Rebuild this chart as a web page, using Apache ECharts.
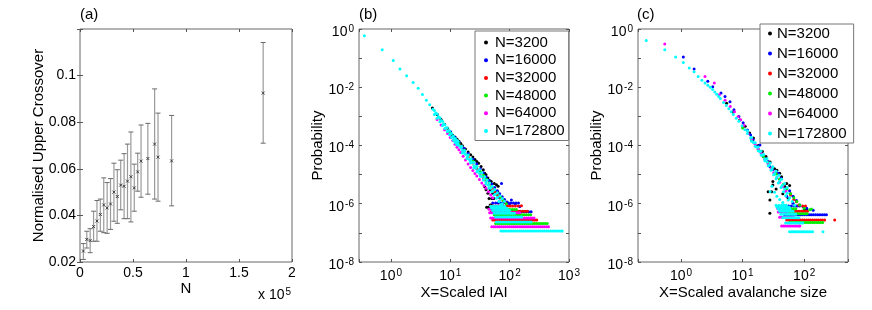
<!DOCTYPE html>
<html><head><meta charset="utf-8">
<script src="https://cdn.jsdelivr.net/npm/echarts@6/dist/echarts.min.js"></script>
<style>html,body{margin:0;padding:0;background:#fff}#c{width:872px;height:310px}</style>
</head><body><div id="c"></div><script>
// ---------- Panel (a): normalised upper crossover vs N ----------
const aN    = [3200,6400,9600,12800,16000,19200,22400,25600,28800,32000,35200,38400,41600,44800,48000,51200,54400,57600,64000,70400,73600,86400,172800];
const aMean = [0.0247,0.0297,0.0292,0.0352,0.0376,0.0404,0.0445,0.0432,0.0449,0.0500,0.0481,0.0530,0.0525,0.0547,0.0566,0.0518,0.0587,0.0633,0.0644,0.0706,0.0650,0.0634,0.0925];
const aLow  = [0.0211,0.0260,0.0240,0.0289,0.0289,0.0332,0.0326,0.0323,0.0340,0.0375,0.0366,0.0424,0.0386,0.0386,0.0372,0.0418,0.0504,0.0478,0.0491,0.0470,0.0461,0.0441,0.0710];
const aHigh = [0.0279,0.0332,0.0343,0.0418,0.0464,0.0470,0.0561,0.0541,0.0558,0.0624,0.0596,0.0637,0.0665,0.0706,0.0758,0.0620,0.0667,0.0788,0.0795,0.0943,0.0839,0.0829,0.1142];

// ---------- Legend / series names ----------
const seriesNames = ['N=3200','N=16000','N=32000','N=48000','N=64000','N=172800'];

// ---------- Panel (b): X = scaled IAI ----------
const bBand3200 = [[5,1.95e-3],[6,1.17e-3],[7,7.8e-4],[8,5.4e-4],[9,3.9e-4],[10,2.9e-4],[11,2.24e-4],[12,1.95e-4],[13,1.65e-4],[14,1.4e-4],[15,1.17e-4],[16,9.8e-5],[18,7.6e-5],[20,6.0e-5],[22,4.8e-5],[24,4.0e-5],[26,3.3e-5],[28,2.8e-5],[30,2.45e-5],[33,1.9e-5],[36,1.48e-5],[38,1.12e-5],[40,1.0e-5],[43,7.6e-6],[46,6.3e-6],[49,5.8e-6],[55,5.0e-6],[60,4.5e-6],[64,4.0e-6],[41,7.6e-7],[44,7.6e-7],[47,9.1e-7],[49,9.1e-7],[45,1.5e-6],[50,1.5e-6],[54,1.5e-6],[43,2.3e-6],[52,2.3e-6],[58,2.3e-6],[47,3.0e-6],[56,3.0e-6],[63,2.6e-6],[40,3.0e-6],[38,3.8e-6]];
const bRows3200 = [];
const bBand16000 = [[10,3.0e-4],[12,1.9e-4],[14,1.3e-4],[17,8e-5],[20,5.3e-5],[24,3.4e-5],[28,2.3e-5],[32,1.6e-5],[36,1.15e-5],[40,8.5e-6],[45,6.3e-6],[50,4.8e-6],[56,3.6e-6],[62,2.8e-6],[68,2.2e-6],[75,1.75e-6],[82,1.4e-6],[90,1.15e-6],[100,1.0e-6],[107,1.35e-6],[125,1.0e-6],[148,8e-7],[73,5e-6],[66,1.66e-6]];
const bRows16000 = [[5.3e-7,[55,60,66,73,80,88,97,107,118,130,143,157,173,190,209,230]],[1.06e-6,[52,58,64,71,78,86,95,105,116,128,141]]];
const bBand32000 = [[10,2.5e-4],[12,1.6e-4],[14,1.05e-4],[17,6.2e-5],[20,4.0e-5],[24,2.5e-5],[28,1.6e-5],[32,1.1e-5],[36,8e-6],[40,6e-6],[45,4.5e-6],[50,3.4e-6],[56,2.6e-6],[62,2.0e-6],[70,1.6e-6],[77,1.35e-6],[85,1.1e-6],[158,8.5e-7]];
const bRows32000 = [[2.77e-7,[52,56,61,66,71,77,83,90,97,105,113,122,132,143,154,167,180,194,210,227,245,265,286]],[5.5e-7,[50,55,60,66,72,79,87,95,104,114,125,137,150,165,181,198]],[8.3e-7,[48,53,58,64,70,77,85,93,102,112,125,140]]];
const bBand48000 = [[10,2.7e-4],[12,1.7e-4],[14,1.15e-4],[17,7e-5],[20,4.6e-5],[24,2.9e-5],[28,1.9e-5],[32,1.3e-5],[36,9.5e-6],[40,7e-6],[45,5.2e-6],[50,3.9e-6],[56,3e-6],[62,2.3e-6],[70,1.7e-6],[78,1.3e-6],[88,1.0e-6]];
const bRows48000 = [[2.1e-7,[58,63,68,74,80,87,94,102,110,119,129,140,152,165,178,193,209,227,246,266,288,312,338,366,397,430]],[4.2e-7,[55,60,65,71,77,84,91,99,107,116,126,137,149,162,176,191,208,226]],[6.3e-7,[52,57,62,67,73,79,86,93,101,110,120,130]]];
const bBand64000 = [[6,7.8e-4],[7,5.1e-4],[8,3.5e-4],[9,2.6e-4],[10,1.9e-4],[11,1.48e-4],[12,1.1e-4],[13,8.7e-5],[14,7.1e-5],[15,5.8e-5],[16.5,4.3e-5],[18,3.2e-5],[20,2.3e-5],[22,1.74e-5],[24,1.38e-5],[26,1.1e-5],[28,8.9e-6],[31,6.8e-6],[34,5.2e-6],[37,4.2e-6],[40,3.4e-6],[44,2.6e-6],[48,2.0e-6],[52,1.6e-6]];
const bRows64000 = [[1.63e-7,[50,54,58,63,68,73,79,85,92,99,107,115,124,134,145,156,168,181,196,211,228,246,265,286,309,333,360,388,419,452]],[3.26e-7,[48,52,56,61,66,71,77,83,90,97,105,113,122,132,142,153,165,178,192,207,223,240,258]],[4.9e-7,[46,50,54,58,63,68,74,80,86,93,100,108,117,126,136,147]],[6.5e-7,[45,49,53,57,62,67,72,78,84,90]]];
const bBand172800 = [[0.357,0.59],[0.714,0.194],[1.094,0.083],[1.42,0.042],[1.84,0.0248],[2.37,0.0146],[2.88,0.0093],[3.4,0.0056],[3.95,0.0036],[4.5,0.0025],[5.1,0.00175],[5.7,0.0013],[6.3,0.00098],[7.0,0.00072],[7.7,0.00055],[8.5,0.00041],[9.3,0.00032],[10.1,0.00025],[10.9,0.0002],[11.7,0.000166],[12.5,0.000138],[13.3,0.000118],[14,0.0001],[15,8.3e-5],[16,6.9e-5],[17,5.9e-5],[18,5.0e-5],[19.5,4.0e-5],[21,3.3e-5],[22,2.9e-5],[23,2.6e-5],[25,2.0e-5],[27,1.66e-5],[29,1.35e-5],[31,1.12e-5],[34,8.7e-6],[37,6.9e-6],[40,5.6e-6],[44,4.3e-6],[48,3.4e-6],[52,2.7e-6],[57,2.1e-6],[62,1.66e-6],[68,1.29e-6],[75,1.0e-6],[82,7.9e-7],[90,6.3e-7],
  [5.4,1.58e-3],[6.0,1.2e-3],[6.7,8.9e-4],[7.4,6.8e-4],[8.1,5.2e-4],[8.9,4.1e-4],[9.7,3.2e-4],[10.5,2.6e-4],[11.3,2.1e-4],[12.1,1.75e-4],[12.9,1.5e-4],
  [5.4,1.15e-3],[6.0,8.7e-4],[6.7,6.5e-4],[7.4,4.9e-4],[8.1,3.8e-4],[8.9,3.0e-4],[9.7,2.35e-4],[10.5,1.9e-4],[11.3,1.5e-4],[12.1,1.27e-4],[12.9,1.08e-4],
  [13.5,1.4e-4],[15.5,9.5e-5],[17.5,6.8e-5],[20,4.7e-5],[22.5,3.5e-5],[25,2.6e-5],[28,1.95e-5],[31,1.5e-5],[34,1.15e-5],[38,8.5e-6],[42,6.5e-6],[46,5.2e-6],[51,4.0e-6],[56,3.1e-6],[62,2.4e-6],[68,1.9e-6],[75,1.5e-6],[82,1.2e-6],
  [16,5.5e-5],[19,3.6e-5],[22,2.5e-5],[25,1.7e-5],[28,1.25e-5],[32,9e-6],[36,6.5e-6],[40,4.8e-6],[45,3.5e-6],[50,2.6e-6],[55,2.0e-6],[60,1.55e-6],[66,1.2e-6],[72,9.5e-7],[80,7.5e-7]];
const bRows172800 = [[1.17e-7,[71,77,83,90,98,106,115,125,135,147,159,172,187,202,219,238,258,279,303,328,356,386,418,453,491,533,577,626,679,736,770]],[2.34e-7,[60,65,70,76,82,89,96,104,113,122,132,143,155,168,182,197,213,230]],[3.5e-7,[58,63,68,74,80,87,94,102,110,119,129,140,152,160]],[4.7e-7,[55,60,65,71,77,83,90,97,105,113,120]],[5.85e-7,[52,57,62,67,73,79,86,93,100]],[7e-7,[50,55,60,65,71,77,84,90]],[8.2e-7,[48,53,58,63,69,75,82]]];

// ---------- Panel (c): X = scaled avalanche size ----------
const cBand3200 = [[5.5,0.0028],[7,0.0014],[9,0.00075],[11,0.00046],[13,0.00027],[15,0.00018],[18,0.0001],[21,6.2e-5],[24,4.2e-5],[28,2.7e-5],[33,1.6e-5],[36,1.4e-5],[40,1.12e-5],[43,8.5e-6],[52,5e-6],[58,4.2e-6],[26,2.6e-6],[27.7,4.7e-7],[27.7,1.35e-6],[29.5,2.6e-6],[31,4.4e-6],[31,5.8e-6],[37.8,7.9e-7],[48.5,3.9e-6],[110,6.2e-7],[100,6.2e-7],[55,1.5e-6],[60,2.2e-6],[45,2.2e-6],[35,3.2e-6]];
const cRows3200 = [];
const cBand16000 = [[1.09,0.109],[1.63,0.042],[2.72,0.016],[3.27,0.0105],[4.46,0.0063],[5.18,0.0048],[6.24,0.0032],[7.24,0.0017],[8.7,0.001],[10.2,0.0006],[12,0.00034],[13.5,0.00023],[14.8,0.000158],[16.9,9.2e-5],[19.1,0.000105],[21.6,4.2e-5],[24,3.5e-5],[26,2.8e-5],[27.7,1.9e-5],[31,1.5e-5],[35.6,1.12e-5],[37.8,1.12e-5],[42,7.5e-6],[47,4.5e-6],[52,1.8e-6],[58,2.8e-6],[66,1.8e-6],[66,1.05e-6],[75,1.3e-6],[85,9e-7],[96,8e-7],[110,7e-7],[140,6e-7]];
const cRows16000 = [[4.2e-7,[48,52,57,62,67,73,79,86,93,101,110,120,130,141,153,166,180,196,213,230]],[8.4e-7,[50,56,62,69,76,84]]];
const cBand32000 = [[10,4.5e-4],[14,1.6e-4],[18,7.5e-5],[22,4.2e-5],[26,2.6e-5],[30,1.7e-5],[35,1.1e-5],[40,7e-6],[46,4.5e-6],[52,3.2e-6],[60,2.0e-6],[68,1.4e-6],[75,1.17e-6],[82,9e-7],[95,8.3e-7],[105,8.3e-7]];
const cRows32000 = [[2.75e-7,[52,56,60,65,70,75,81,87,94,101,109,117,126,136,147,158,170,184,198,215,313]],[5.5e-7,[48,52,56,61,66,71,77,83,90,97,105,113]]];
const cBand48000 = [[10,4e-4],[14,1.5e-4],[18,7e-5],[22,4e-5],[26,2.5e-5],[30,1.65e-5],[35,1.05e-5],[40,7e-6],[46,4.6e-6],[52,3.3e-6],[60,2.2e-6],[68,1.6e-6],[76,1.2e-6],[85,9e-7],[100,7e-7],[123,6.2e-7],[131,6.6e-7]];
const cRows48000 = [[2.25e-7,[58,62,67,72,77,83,89,96,103,111,119,128,138,148,160,172,185,200]],[4.5e-7,[52,56,61,66,71,77,83,89,96,104,112]],[6.75e-7,[48,52,57,62,67,73]]];
const cBand64000 = [[0.544,0.305],[2.45,0.0235],[3.47,0.0139],[4.19,0.0055],[5.2,0.0036],[6.3,0.0022],[7.4,0.00145],[8.4,0.00098],[9.3,0.00076],[10.5,0.0005],[12.3,0.00026],[14,0.00017],[16,0.00011],[18,7.5e-5],[20,5.3e-5],[23,3.4e-5],[26,2.3e-5],[29,1.6e-5],[32,1.15e-5],[36,7.8e-6],[40,5.5e-6],[45,3.8e-6],[50,2.7e-6]];
const cRows64000 = [[1.73e-7,[43,46,49,53,57,61,66,71,76,82,85]],[3.46e-7,[40,43,46,50,54,58,62,67]],[5.2e-7,[38,41,44,48,52]],[6.9e-7,[37,40,44]]];
const cBand172800 = [[0.272,0.405],[0.544,0.194],[0.816,0.11],[1.088,0.071],[1.36,0.046],[1.63,0.034],[1.9,0.0235],[2.18,0.0174],[2.45,0.0141],[2.72,0.0117],[2.99,0.01],[3.26,0.0083],[3.54,0.0069],[3.81,0.0058],[4.08,0.0048],[4.35,0.0041],[4.9,0.003],[5.44,0.00234],[5.98,0.00182],[6.53,0.00145],[7.07,0.00117],[7.89,0.00087],[8.7,0.00068],[9.8,0.00048],[10.9,0.00035],[12,0.00026],[13.5,0.00018],[15,0.000127],[17,8.7e-5],[19,6.2e-5],[21,4.6e-5],[23,3.5e-5],[25,2.7e-5],[27,2.1e-5],[30,1.55e-5],[33,1.1e-5],[36,8.3e-6],[40,6e-6],[44,4.2e-6],[48,3.2e-6],[53,2.3e-6],[58,1.6e-6],[64,1.2e-6],[70,8.8e-7],
  [12,3.2e-4],[14,1.9e-4],[16,1.25e-4],[18,8.8e-5],[20,6.5e-5],[22,4.9e-5],[25,3.5e-5],[28,2.5e-5],[31,1.85e-5],[35,1.3e-5],[39,9.5e-6],[43,7e-6],[48,5e-6],[53,3.6e-6],
  [14,1.4e-4],[16,9.5e-5],[18,6.6e-5],[20,4.7e-5],[23,3.0e-5],[26,2.0e-5],[29,1.4e-5],[32,1.0e-5],[35,7.2e-6],[38,5.2e-6],[42,3.6e-6],[46,2.6e-6],[50,1.9e-6],[55,1.35e-6],[30,4e-6],[33,2.5e-6],[36,1.8e-6],[40,1.4e-6],[45,1.1e-6],[28,2.6e-6]];
const cRows172800 = [[1.1e-7,[58,62,66,70,75,80,86,92,98,105,112,120,128,137,202]],[2.2e-7,[50,54,58,62,67,72,77,83,89,95]],[3.3e-7,[45,49,53,57,61,66,71,76,82]],[4.4e-7,[42,46,50,54,58,63,68,73]],[5.5e-7,[40,44,48,52,56,61,66]],[6.6e-7,[38,42,46,50,54,59]],[7.7e-7,[36,40,44,48,52,57]],[8.8e-7,[35,39,43,47,51]]];

// ---------- styling ----------
const seriesColors = ['#000000','#0000ff','#ff0000','#00ee00','#ff00ff','#00ffff'];
const FONT = "'Liberation Sans', Arial, Helvetica, sans-serif";

function build(band, rows) {
  const d = band.map(p => [p[0], p[1]]);
  rows.forEach(r => r[1].forEach(x => d.push([x, r[0]])));
  return d;
}
const bData = [build(bBand3200,bRows3200), build(bBand16000,bRows16000), build(bBand32000,bRows32000), build(bBand48000,bRows48000), build(bBand64000,bRows64000), build(bBand172800,bRows172800)];
const cData = [build(cBand3200,cRows3200), build(cBand16000,cRows16000), build(cBand32000,cRows32000), build(cBand48000,cRows48000), build(cBand64000,cRows64000), build(cBand172800,cRows172800)];

function logLabel(v, evenOnly) {
  const e = Math.log10(v); const r = Math.round(e);
  if (Math.abs(e - r) > 1e-6) return '';
  if (evenOnly && r % 2 !== 0) return '';
  return '{b|10}{s|' + r + '}';
}
const richLog = {
  b: {fontSize: 14, fontFamily: FONT, color: '#000', lineHeight: 16, padding: [6,0,0,0]},
  s: {fontSize: 10, fontFamily: FONT, color: '#000', lineHeight: 10, verticalAlign: 'top', padding: [3,0,0,1]}
};
const tick = {show: true, inside: true, length: 3, lineStyle: {color: '#555', width: 1}};
const nameStyle = {fontSize: 15, color: '#000', fontFamily: FONT};

function mirror(base, position) {
  return Object.assign({}, base, {position: position, name: '', axisLabel: {show: false}, axisTick: tick, axisLine: {show: false}, splitLine: {show: false}});
}

const ax0 = {type: 'value', gridIndex: 0, min: 0, max: 200000, interval: 50000};
const ay0 = {type: 'value', gridIndex: 0, min: 0.02, max: 0.12, interval: 0.02};
const ax1 = {type: 'log', logBase: 10, gridIndex: 1, min: 0.29, max: 1000};
const ay1 = {type: 'log', logBase: 10, gridIndex: 1, min: 1e-8, max: 1};
const ax2 = {type: 'log', logBase: 10, gridIndex: 2, min: 0.2, max: 515};
const ay2 = {type: 'log', logBase: 10, gridIndex: 2, min: 1e-8, max: 1};

const xAxes = [
  Object.assign({}, ax0, {position: 'bottom', axisLine: {show: false}, axisTick: tick, splitLine: {show: false},
    axisLabel: {formatter: v => String(+(v / 1e5).toFixed(2)), fontSize: 14, color: '#000', fontFamily: FONT, margin: 4},
    name: 'N', nameLocation: 'middle', nameGap: 19, nameTextStyle: nameStyle, nameMoveOverlap: false}),
  mirror(ax0, 'top'),
  Object.assign({}, ax1, {position: 'bottom', axisLine: {show: false}, axisTick: tick, splitLine: {show: false},
    axisLabel: {formatter: v => logLabel(v, false), rich: richLog, margin: 3},
    name: 'X=Scaled IAI', nameLocation: 'middle', nameGap: 23, nameTextStyle: nameStyle, nameMoveOverlap: false}),
  mirror(ax1, 'top'),
  Object.assign({}, ax2, {position: 'bottom', axisLine: {show: false}, axisTick: tick, splitLine: {show: false},
    axisLabel: {formatter: v => logLabel(v, false), rich: richLog, margin: 3},
    name: 'X=Scaled avalanche size', nameLocation: 'middle', nameGap: 23, nameTextStyle: nameStyle, nameMoveOverlap: false}),
  mirror(ax2, 'top')
];
const yAxes = [
  Object.assign({}, ay0, {position: 'left', axisLine: {show: false}, axisTick: tick, splitLine: {show: false},
    axisLabel: {formatter: v => (v > 0.11 ? '' : String(+v.toFixed(2))), fontSize: 14, color: '#000', fontFamily: FONT, margin: 4},
    name: 'Normalised Upper Crossover', nameLocation: 'middle', nameRotate: 90, nameGap: 34, nameTextStyle: nameStyle, nameMoveOverlap: false}),
  mirror(ay0, 'right'),
  Object.assign({}, ay1, {position: 'left', axisLine: {show: false}, axisTick: tick, splitLine: {show: false},
    axisLabel: {formatter: v => logLabel(v, true), rich: richLog, margin: 5},
    name: 'Probability', nameLocation: 'middle', nameRotate: 90, nameGap: 34, nameTextStyle: nameStyle, nameMoveOverlap: false}),
  mirror(ay1, 'right'),
  Object.assign({}, ay2, {position: 'left', axisLine: {show: false}, axisTick: tick, splitLine: {show: false},
    axisLabel: {formatter: v => logLabel(v, true), rich: richLog, margin: 5},
    name: 'Probability', nameLocation: 'middle', nameRotate: 90, nameGap: 34, nameTextStyle: nameStyle, nameMoveOverlap: false}),
  mirror(ay2, 'right')
];

const gridBase = {show: true, borderColor: '#666', borderWidth: 1, backgroundColor: 'transparent', containLabel: false, outerBoundsMode: 'none'};
const grids = [
  Object.assign({}, gridBase, {left: 80, top: 29, width: 212, height: 233}),
  Object.assign({}, gridBase, {left: 359, top: 29, width: 210, height: 233}),
  Object.assign({}, gridBase, {left: 638, top: 29, width: 210, height: 233})
];

const errData = aN.map((n, i) => [n, aLow[i], aHigh[i], aMean[i]]);
function renderErr(params, api) {
  const x = api.value(0);
  const pLo = api.coord([x, api.value(1)]);
  const pHi = api.coord([x, api.value(2)]);
  const pM = api.coord([x, api.value(3)]);
  const cw = 2.5, ms = 1.5;
  const bar = {stroke: '#9a9a9a', lineWidth: 1.2};
  const cap = {stroke: '#6a6a6a', lineWidth: 1};
  const mk = {stroke: '#333', lineWidth: 0.9};
  return {type: 'group', children: [
    {type: 'line', shape: {x1: pLo[0], y1: pLo[1], x2: pHi[0], y2: pHi[1]}, style: bar},
    {type: 'line', shape: {x1: pLo[0] - cw, y1: pLo[1], x2: pLo[0] + cw, y2: pLo[1]}, style: cap},
    {type: 'line', shape: {x1: pHi[0] - cw, y1: pHi[1], x2: pHi[0] + cw, y2: pHi[1]}, style: cap},
    {type: 'line', shape: {x1: pM[0] - ms, y1: pM[1] - ms, x2: pM[0] + ms, y2: pM[1] + ms}, style: mk},
    {type: 'line', shape: {x1: pM[0] - ms, y1: pM[1] + ms, x2: pM[0] + ms, y2: pM[1] - ms}, style: mk}
  ]};
}

const series = [{
  type: 'custom', name: 'crossover', xAxisIndex: 0, yAxisIndex: 0, data: errData,
  encode: {x: 0, y: [1, 2, 3]}, renderItem: renderErr, silent: true
}];
seriesNames.forEach((nm, i) => {
  series.push({type: 'scatter', name: nm, xAxisIndex: 2, yAxisIndex: 2, data: bData[i], symbol: 'circle', symbolSize: 3,
    itemStyle: {color: seriesColors[i], opacity: 1}, silent: true, emphasis: {disabled: true}, animation: false});
});
seriesNames.forEach((nm, i) => {
  series.push({type: 'scatter', name: nm, xAxisIndex: 4, yAxisIndex: 4, data: cData[i], symbol: 'circle', symbolSize: 3,
    itemStyle: {color: seriesColors[i], opacity: 1}, silent: true, emphasis: {disabled: true}, animation: false});
});

const legendBase = {data: seriesNames, orient: 'vertical', itemWidth: 4, itemHeight: 4, icon: 'circle',
  borderColor: '#777', borderWidth: 1, backgroundColor: '#fff', selectedMode: false,
  textStyle: {fontSize: 15, lineHeight: 15, color: '#000', fontFamily: FONT}};

const option = {
  animation: false,
  backgroundColor: '#fff',
  textStyle: {fontFamily: FONT},
  title: [
    {text: '(a)', left: 80, top: 7, padding: 0, textStyle: {fontSize: 15, fontWeight: 'normal', color: '#000', fontFamily: FONT}},
    {text: '(b)', left: 359, top: 7, padding: 0, textStyle: {fontSize: 15, fontWeight: 'normal', color: '#000', fontFamily: FONT}},
    {text: '(c)', left: 637, top: 7, padding: 0, textStyle: {fontSize: 15, fontWeight: 'normal', color: '#000', fontFamily: FONT}}
  ],
  legend: [
    Object.assign({}, legendBase, {left: 475, top: 31, itemGap: 2.7, padding: [4, 4, 2, 9],
      textStyle: Object.assign({}, legendBase.textStyle, {padding: [0, 0, 0, 2]})}),
    Object.assign({}, legendBase, {left: 760, top: 24, itemGap: 5, padding: [2, 7, 2, 8]})
  ],
  grid: grids,
  xAxis: xAxes,
  yAxis: yAxes,
  graphic: [{type: 'text', left: 258, top: 282, silent: true,
    style: {text: '{b|x 10}{s|5}', rich: richLog, fill: '#000'}}],
  series: series
};
const chart = echarts.init(document.getElementById('c'));
chart.setOption(option);
</script></body></html>
